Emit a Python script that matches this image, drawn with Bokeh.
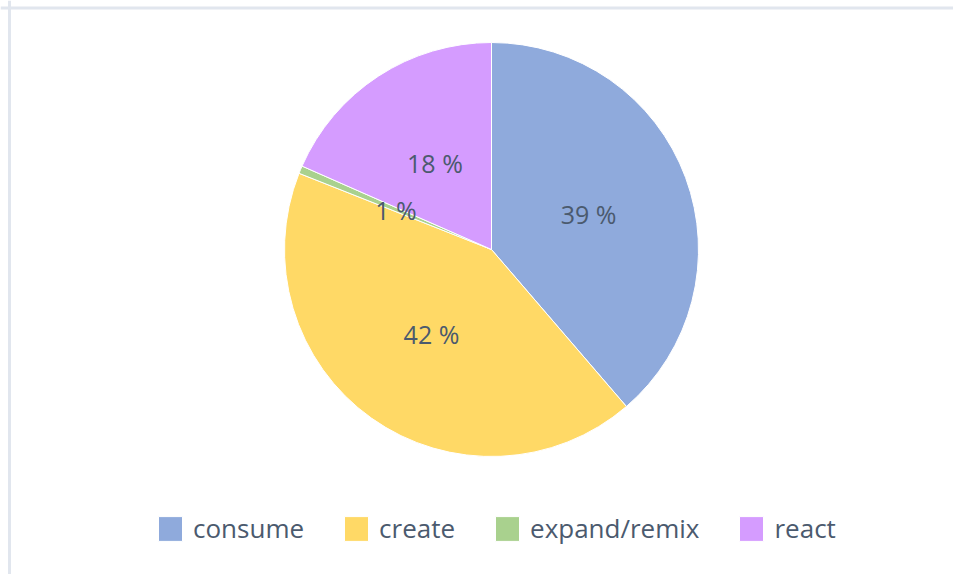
import math
from bokeh.plotting import figure
from bokeh.models import ColumnDataSource, Range1d, Span
from bokeh.core.properties import value
from bokeh.embed import file_html
from bokeh.resources import INLINE

categories = ["consume", "create", "expand/remix", "react"]
shares = [38.7, 42.3, 0.6, 18.4]
colors = ["#8faadc", "#ffd966", "#a9d18e", "#d59cff"]

W, H = 953, 574
CX, CY, R = 491, H - 249, 207
TEXT = "#4b5a6e"
FONT = "Open Sans"

total = sum(shares)
starts, ends, lx, ly, labels = [], [], [], [], []
cum = 0.0
for v in shares:
    a0 = math.pi / 2 - 2 * math.pi * cum / total
    cum += v
    a1 = math.pi / 2 - 2 * math.pi * cum / total
    starts.append(a0)
    ends.append(a1)
    mid = (a0 + a1) / 2
    lx.append(CX + 0.5 * R * math.cos(mid))
    ly.append(CY + 0.5 * R * math.sin(mid))
    labels.append(f"{round(v)} %")

src = ColumnDataSource(dict(cat=categories, start=starts, end=ends, color=colors,
                            lx=lx, ly=ly, label=labels))

p = figure(width=W, height=H, output_backend="svg", toolbar_location=None,
           x_range=Range1d(0, W), y_range=Range1d(0, H),
           x_axis_location=None, y_axis_location=None,
           min_border=0, min_border_left=0, min_border_right=0,
           min_border_top=0, min_border_bottom=0)
p.grid.visible = False
p.outline_line_color = None
p.background_fill_color = "white"
p.border_fill_color = "white"

p.wedge(x=CX, y=CY, radius=R, start_angle="start", end_angle="end",
        direction="clock", fill_color="color", line_color="white", line_width=1,
        source=src, legend_field="cat")

p.text(x="lx", y="ly", text="label", source=src, text_align="center",
       text_baseline="middle", text_font=value(FONT), text_font_size="25px",
       text_color=TEXT)

p.add_layout(Span(location=9, dimension="height", line_color="#e1e6ee", line_width=3))
p.add_layout(Span(location=H - 7.5, dimension="width", line_color="#e1e6ee", line_width=3))

lg = p.legend[0]
lg.orientation = "horizontal"
lg.location = (155, 28)
lg.spacing = 37
lg.label_standoff = 8
lg.glyph_width = 30
lg.glyph_height = 31
lg.label_text_font = FONT
lg.label_text_font_size = "26px"
lg.label_text_color = TEXT
lg.padding = 0
lg.margin = 0
lg.border_line_color = None
lg.background_fill_alpha = 0

open("out.html", "w").write(file_html(p, INLINE))
